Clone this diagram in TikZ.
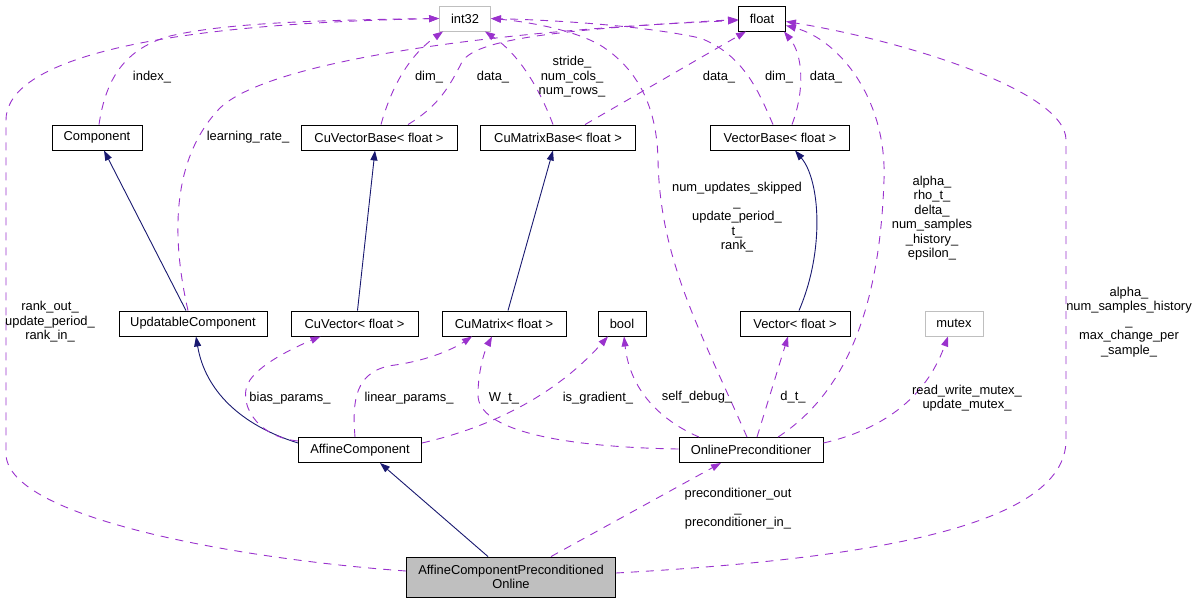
\documentclass[tikz,border=0pt]{standalone}
\usepackage{fontspec}
\setmainfont{Liberation Sans}
\usepackage{xcolor}
\usepackage{tikz}
\usetikzlibrary{arrows.meta}
\usetikzlibrary{positioning}

\definecolor{inhblue}{HTML}{191970}
\definecolor{usedviolet}{HTML}{9A32CD}
\definecolor{extgrey}{HTML}{BFBFBF}

\begin{document}
\begin{tikzpicture}[x=1pt, y=-1pt, font=\fontsize{12.9}{14.5}\selectfont]
        \tikzstyle{every node}=[inner sep=0pt, align=center]
        \tikzstyle{cls}=[draw=black, line width=0.9pt, minimum height=25pt]
        \tikzstyle{extcls}=[draw=extgrey, line width=0.9pt, minimum height=25pt]
        \tikzstyle{inherit}=[color=inhblue, line width=0.9pt, -{Triangle[length=10pt,width=7pt]}]
        \tikzstyle{member}=[color=usedviolet, line width=0.9pt, dash pattern=on 8pt off 7pt, -{Triangle[length=10pt,width=7pt]}]
        \useasboundingbox (0,0) rectangle (1199,603);

        \node[extcls, minimum width=51pt] (int32) at (465,18.5) {int32};
        \node[cls, minimum width=47pt] (float) at (762,18.5) {float};
        \node[cls, minimum width=90pt] (component) at (97,137.5) {Component};
        \node[cls, minimum width=156pt] (cuvecbase) at (379,137.5) {CuVectorBase< float >};
        \node[cls, minimum width=155pt] (cumatbase) at (558,137.5) {CuMatrixBase< float >};
        \node[cls, minimum width=139pt] (vecbase) at (780,137.5) {VectorBase< float >};
        \node[cls, minimum width=148pt] (updcomp) at (193,323.5) {UpdatableComponent};
        \node[cls, minimum width=127pt] (cuvec) at (354.5,323.5) {CuVector< float >};
        \node[cls, minimum width=124pt] (cumat) at (504,323.5) {CuMatrix< float >};
        \node[cls, minimum width=48pt] (bool) at (622,323.5) {bool};
        \node[cls, minimum width=110pt] (vec) at (795,323.5) {Vector< float >};
        \node[extcls, minimum width=58pt] (mutex) at (954,323.5) {mutex};
        \node[cls, minimum width=123pt] (affine) at (360,450) {AffineComponent};
        \node[cls, minimum width=144pt] (online) at (751,450) {OnlinePreconditioner};
        \node[cls, fill=extgrey, minimum width=209pt, minimum height=40pt] (acpo) at (511,577) {AffineComponentPreconditioned\\Online};

        \draw[inherit] ([xshift=-7pt]updcomp.north) -- ([xshift=7pt]component.south);
        \draw[inherit] ([xshift=3pt]cuvec.north) -- ([xshift=-4pt]cuvecbase.south);
        \draw[inherit] ([xshift=4pt]cumat.north) -- ([xshift=-5pt]cumatbase.south);
        \draw[inherit] ([xshift=4pt]vec.north) .. controls (825,250) and (820,180) .. ([xshift=15pt]vecbase.south);
        \draw[inherit] ([yshift=7pt]affine.west) .. controls (240,425) and (205,390) .. ([xshift=3pt]updcomp.south);
        \draw[inherit] ([xshift=-23pt]acpo.north) -- ([xshift=20pt]affine.south);

        \draw[member] ([xshift=2pt]component.north) .. controls (105,85) and (120,50) .. (170,36) .. controls (230,22) and (330,20) .. (int32.west);
        \draw[member] ([yshift=6pt]acpo.west) .. controls (250,560) and (10,520) .. (6,455) -- (6,120) .. controls (6,70) and (110,25) .. (int32.west);
        \draw[member] ([xshift=-5pt]updcomp.north) .. controls (172,240) and (170,160) .. (220,108) .. controls (270,60) and (500,30) .. ([yshift=-2pt]float.west);
        \draw[member] ([xshift=2pt]cuvecbase.north) .. controls (392,85) and (410,55) .. ([xshift=4pt]int32.south west);
        \draw[member] ([xshift=29pt]cuvecbase.north) .. controls (440,105) and (450,85) .. (462,62) .. controls (475,40) and (550,30) .. ([yshift=-1pt]float.west);
        \draw[member] ([xshift=-5pt]cumatbase.north) .. controls (540,90) and (520,55) .. ([xshift=-6pt]int32.south east);
        \draw[member] ([xshift=27pt]cumatbase.north) -- ([xshift=8pt]float.south west);
        \draw[member] ([xshift=-7pt]vecbase.north) .. controls (760,95) and (745,55) .. (700,38) .. controls (640,25) and (550,20) .. (int32.east);
        \draw[member] ([xshift=12pt]vecbase.north) .. controls (805,90) and (803,55) .. ([xshift=-2pt]float.south east);
        \draw[member] ([xshift=-4pt]online.north) .. controls (700,330) and (660,260) .. (658,160) .. controls (657,110) and (640,70) .. (600,45) .. controls (570,28) and (520,21) .. (int32.east);
        \draw[member] ([xshift=27pt]online.north) .. controls (850,390) and (880,300) .. (884,180) .. controls (887,100) and (840,40) .. ([yshift=-7pt]float.east);
        \draw[member] ([yshift=4pt]acpo.east) .. controls (850,560) and (1066,530) .. (1066,440) -- (1066,140) .. controls (1066,90) and (900,40) .. ([yshift=-3pt]float.east);
        \draw[member] ([yshift=9pt]affine.west) .. controls (255,437) and (236,400) .. (250,380) .. controls (262,362) and (300,345) .. ([xshift=-34pt]cuvec.south);
        \draw[member] ([xshift=-5pt]affine.north) .. controls (352,400) and (355,370) .. (395,365) .. controls (430,360) and (455,348) .. ([xshift=-32pt]cumat.south);
        \draw[member] ([yshift=7pt]affine.east) .. controls (500,425) and (560,390) .. ([xshift=-14pt]bool.south);
        \draw[member] ([yshift=1pt]online.west) .. controls (560,447) and (478,430) .. (478,395) .. controls (478,370) and (485,350) .. ([xshift=-12pt]cumat.south);
        \draw[member] ([xshift=-52pt]online.north) .. controls (660,420) and (630,390) .. ([xshift=2pt]bool.south);
        \draw[member] ([xshift=6pt]online.north) -- ([xshift=-7pt]vec.south);
        \draw[member] ([yshift=7pt]online.east) .. controls (880,430) and (925,400) .. ([xshift=-6pt]mutex.south);
        \draw[member] ([xshift=40pt]acpo.north) -- ([xshift=-30pt]online.south);

        \node (lindex) at (152,77) {index\_};
        \node (llearn) at (248,137) {learning\_rate\_};
        \node (lcvdim) at (429,77) {dim\_};
        \node (lcvdata) at (493,77) {data\_};
        \node (lcmsize) at (572,77) {stride\_\\num\_cols\_\\num\_rows\_};
        \node (lcmdata) at (719,77) {data\_};
        \node (lvbdim) at (779,77) {dim\_};
        \node (lvbdata) at (826,77) {data\_};
        \node (lopint) at (737,217.5) {num\_updates\_skipped\\\_\\update\_period\_\\t\_\\rank\_};
        \node (lopfloat) at (932,218) {alpha\_\\rho\_t\_\\delta\_\\num\_samples\\\_history\_\\epsilon\_};
        \node (lacfloat) at (1129,322) {alpha\_\\num\_samples\_history\\\_\\max\_change\_per\\\_sample\_};
        \node (lacint) at (50,322) {rank\_out\_\\update\_period\_\\rank\_in\_};
        \node (lbias) at (290,398) {bias\_params\_};
        \node (llinear) at (409,398) {linear\_params\_};
        \node (lwt) at (504,398) {W\_t\_};
        \node (lgrad) at (598,398) {is\_gradient\_};
        \node (ldebug) at (697,397) {self\_debug\_};
        \node (ldt) at (793,397) {d\_t\_};
        \node (lmutex) at (967,398) {read\_write\_mutex\_\\update\_mutex\_};
        \node (lprecond) at (738,509) {preconditioner\_out\\\_\\preconditioner\_in\_};
      \end{tikzpicture}
\end{document}
